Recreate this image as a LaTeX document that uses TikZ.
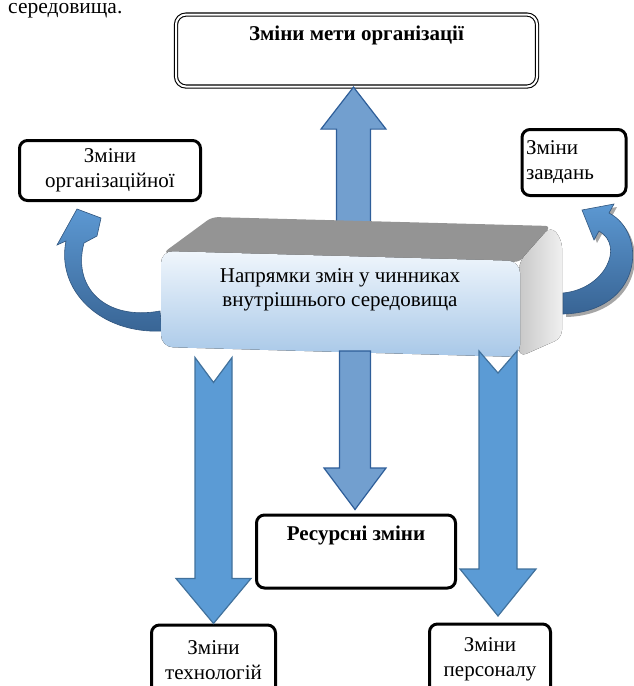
\documentclass[tikz,border=0pt]{standalone}
\usepackage{fontspec}
\setmainfont{Liberation Serif}
\usetikzlibrary{calc}
\definecolor{arrowblue}{RGB}{91,155,213}
\definecolor{arrowedge}{RGB}{65,113,156}
\definecolor{paleblue}{RGB}{114,159,207}
\definecolor{paleedge}{RGB}{46,94,153}
\definecolor{curvedark}{RGB}{56,100,148}
\definecolor{curvelight}{RGB}{92,152,210}
\definecolor{facetop}{RGB}{240,246,252}
\definecolor{facebottom}{RGB}{168,200,232}
\definecolor{lidgrey}{RGB}{148,148,148}
\definecolor{sidegrey}{RGB}{200,200,200}

\begin{document}
\begin{tikzpicture}[x=1pt,y=-1pt,
box node/.style={draw,line width=3pt,rounded corners=8pt,inner sep=4pt,align=center,
  font=\fontsize{21}{25}\selectfont},
goal node/.style={draw,double,double distance=2pt,line width=1.1pt,rounded corners=10pt,inner sep=4pt,
  font=\fontsize{21}{25}\selectfont\bfseries},
blk arrow/.style={fill=arrowblue,draw=arrowedge,line width=1.2pt},
pale arrow/.style={fill=paleblue,draw=paleedge,line width=1.2pt},
curve arrow/.style={top color=curvelight,bottom color=curvedark,draw=curvedark!85!black,line width=0.6pt}]

\useasboundingbox (0,0) rectangle (634,686);
\clip (0,0) rectangle (634,686);

% text left over from the page
\node[anchor=base west,inner sep=0pt,font=\fontsize{21.5}{25}\selectfont] (prev) at (8,13.5) {середовища.};

% boxes
\node[goal node,anchor=north,minimum width=361pt,text height=22pt,text depth=42pt] (goal) at (356.5,14) {Зміни мети організації};
\node[box node,minimum width=181pt,minimum height=60pt] (org) at (110,170.5) {Зміни\\організаційної};
\node[box node,minimum width=104pt,minimum height=66pt,text width=96pt,align=left] (task) at (574,162.5) {Зміни\\завдань};
\node[box node,anchor=north,minimum width=199pt,text height=21.5pt,text depth=43.5pt,font=\fontsize{21}{25}\selectfont\bfseries] (res) at (356,513.5) {Ресурсні зміни};
\node[box node,anchor=north,minimum width=124pt,minimum height=70pt] (tech) at (213.5,623.5) {Зміни\\технологій};
\node[box node,anchor=north,minimum width=121pt,minimum height=70pt] (pers) at (490,622.5) {Зміни\\персоналу};

% up arrow, behind the block
\draw[pale arrow,shift={($(goal.south)+(-3,0)$)}] (-17,160) -- (-17,42) -- (-32.5,42) -- (0,0)
  -- (32.5,42) -- (17,42) -- (17,160) -- cycle;

% curved arrows to the side boxes
\draw[curve arrow] (160,311) .. controls (105,321) and (72,287) .. (84,243) -- (97,236) -- (101,218)
  -- (77,209) -- (57,245) -- (66,241) .. controls (56,290) and (100,334) .. (162,331) -- cycle;
\fill[black!35] (566,296) .. controls (608,292) and (628,249) .. (602,234) -- (597,243) -- (585,213)
  -- (617,207) -- (612,216) .. controls (650,236) and (645,315) .. (566,317) -- cycle;
\draw[curve arrow] (563,293) .. controls (605,289) and (625,246) .. (599,231) -- (594,240) -- (582,210)
  -- (614,204) -- (609,213) .. controls (648,233) and (643,312) .. (563,314) -- cycle;

% the block
\fill[lidgrey,rounded corners=6pt] (163,253) -- (212,217) -- (551,226) -- (520,262) -- cycle;
\fill[left color=sidegrey,right color=black!6,rounded corners=8pt] (519,262) -- (551,226) -- (562,240)
  -- (562,338) -- (519,357) -- cycle;
\fill[top color=facetop,bottom color=facebottom,rounded corners=12pt] (161,251) -- (520,261)
  -- (520,357) -- (161,347) -- cycle;
\node[align=center,font=\fontsize{21}{24.5}\selectfont] (inner) at (340,290) {Напрямки змін у чинниках\\внутрішнього середовища};

% down arrows
\draw[blk arrow,shift={(tech.north)}] (-18.5,-266) -- (0,-241) -- (18.5,-266) -- (18.5,-45)
  -- (37.5,-45) -- (0,0) -- (-37.5,-45) -- (-18.5,-45) -- cycle;
\draw[pale arrow,shift={($(res.north)+(-1,-4)$)}] (-15.5,-158.5) -- (15.5,-158.5) -- (15.5,-41.5)
  -- (31,-41.5) -- (0,0) -- (-31,-41.5) -- (-15.5,-41.5) -- cycle;
\draw[blk arrow,shift={($(pers.north)+(8,-6.5)$)}] (-19,-265) -- (0,-243) -- (19,-265) -- (19,-47)
  -- (38,-47) -- (0,0) -- (-38,-47) -- (-19,-47) -- cycle;
\end{tikzpicture}
\end{document}
